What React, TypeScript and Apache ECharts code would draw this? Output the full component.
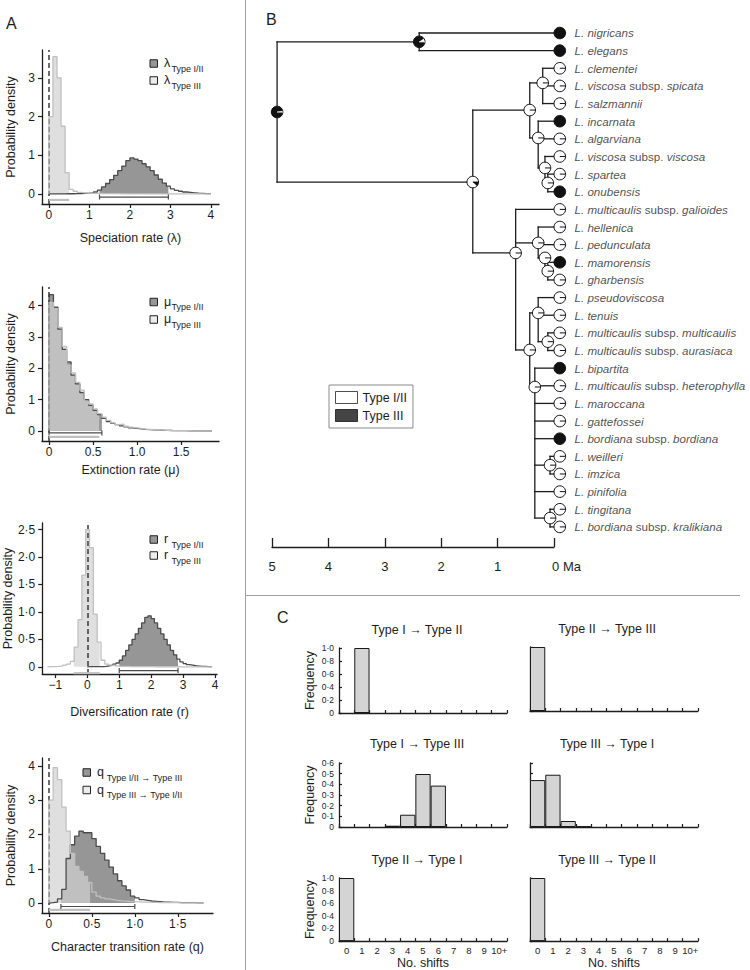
import React, { useEffect, useRef } from "react";
import * as echarts from "echarts";

const FONT = "'Liberation Sans', Arial, Helvetica, sans-serif";
const INK = "#1d1d1d";
const DARK_FILL = "#969696";
const DARK_LINE = "#4b4b4b";
const LIGHT_FILL = "#d2d2d2";
const LIGHT_LINE = "#c0c0c0";
const FRAME = "#a0a0a0";

/* ================= Panel A: posterior densities (histogram bins) ================= */
const lambdaBinStart = 0;
const lambdaBinWidth = 0.1;
const lambdaTypeI_II = [
  0.004, 0.004, 0.004, 0.004, 0.005, 0.005, 0.006, 0.008, 0.012, 0.02,
  0.03, 0.05, 0.1, 0.18, 0.27, 0.37, 0.48, 0.6, 0.72, 0.86,
  0.93, 0.9, 0.86, 0.78, 0.7, 0.6, 0.49, 0.38, 0.28, 0.2,
  0.13, 0.09, 0.07, 0.05, 0.04, 0.03, 0.02, 0.015, 0.01, 0.008,
];
const lambdaTypeIII = [
  2.0, 3.55, 3.0, 1.75, 0.55, 0.12, 0.07, 0.04, 0.03, 0.02,
  0.016, 0.013, 0.011, 0.009, 0.008, 0.007, 0.006, 0.005, 0.005, 0.004,
  0.004, 0.004, 0.003, 0.003, 0.003, 0.003, 0.002, 0.002, 0.002, 0.002,
  0.002, 0.002, 0.002, 0.001, 0.001, 0.001, 0.001, 0.001, 0.001, 0.001,
];
const lambdaHpdTypeI_II = [1.25, 2.95];
const lambdaHpdTypeIII = [0, 0.5];

const muBinStart = 0;
const muBinWidth = 0.05;
const muTypeI_II = [
  4.35, 3.95, 3.25, 2.6, 2.2, 1.78, 1.5, 1.22, 1.0, 0.82,
  0.66, 0.52, 0.4, 0.3, 0.24, 0.2, 0.16, 0.13, 0.1, 0.08,
  0.065, 0.05, 0.04, 0.033, 0.027, 0.022, 0.018, 0.014, 0.012, 0.01,
  0.008, 0.007, 0.006, 0.005, 0.004, 0.003, 0.003,
];
const muTypeIII = [
  4.1, 3.9, 3.3, 2.7, 2.1, 1.85, 1.55, 1.3, 0.95, 0.86,
  0.7, 0.55, 0.44, 0.34, 0.26, 0.2, 0.22, 0.15, 0.12, 0.1,
  0.08, 0.06, 0.05, 0.04, 0.03, 0.025, 0.02, 0.016, 0.013, 0.01,
  0.008, 0.007, 0.006, 0.005, 0.004, 0.003, 0.003,
];
const muHpdTypeI_II = [0, 0.6];
const muHpdTypeIII = [0, 0.57];

const rTypeI_IIBinStart = 0;
const rTypeI_IIBinWidth = 0.1;
const rTypeI_II = [
  0.004, 0.004, 0.005, 0.005, 0.006, 0.01, 0.02, 0.03, 0.05, 0.07,
  0.12, 0.2, 0.3, 0.4, 0.5, 0.6, 0.7, 0.8, 0.9, 0.93,
  0.88, 0.8, 0.7, 0.6, 0.5, 0.4, 0.3, 0.22, 0.14, 0.09,
  0.06, 0.04, 0.03, 0.02, 0.015, 0.01, 0.008, 0.005, 0.003,
];
const rTypeIIIBinStart = -1.25;
const rTypeIIIBinWidth = 0.12;
const rTypeIII = [
  0.004, 0.006, 0.01, 0.015, 0.03, 0.05,
  0.1, 0.36, 0.86, 1.67, 2.5, 2.17, 0.96, 0.45, 0.12,
  0.05, 0.03, 0.02, 0.014, 0.01, 0.008, 0.006, 0.005, 0.004, 0.004,
  0.003, 0.003, 0.003, 0.002, 0.002, 0.002, 0.002, 0.002, 0.002, 0.001,
  0.001, 0.001, 0.001, 0.001, 0.001, 0.001, 0.001, 0.001,
];
const rHpdTypeI_II = [1.0, 2.84];
const rHpdTypeIII = [-0.43, 0.39];

const qBinStart = 0;
const qBinWidth = 0.05;
const qTypeI_IIToIII = [
  0.01, 0.03, 0.12, 0.4, 1.3, 1.7, 1.95, 2.1, 2.05, 2.05,
  1.88, 1.65, 1.45, 1.25, 1.05, 0.85, 0.65, 0.5, 0.38, 0.2,
  0.15, 0.1, 0.08, 0.06, 0.05, 0.04, 0.03, 0.03, 0.02, 0.02,
  0.015, 0.01, 0.01, 0.01, 0.005, 0.005,
];
const qTypeIIIToI_II = [
  3.0, 3.95, 3.6, 2.8, 2.1, 1.45, 1.07, 0.92, 0.78, 0.6,
  0.32, 0.2, 0.15, 0.12, 0.1, 0.08, 0.065, 0.055, 0.045, 0.04,
  0.035, 0.03, 0.025, 0.02, 0.02, 0.015, 0.015, 0.012, 0.01, 0.01,
  0.008, 0.007, 0.006, 0.005, 0.004, 0.003,
];
const qHpdTypeI_IIToIII = [0.14, 1.0];
const qHpdTypeIIIToI_II = [0, 0.48];

const lambdaTicksX = [0, 1, 2, 3, 4];
const lambdaTicksY = [0, 1, 2, 3];
const muTicksX = [0, 0.5, 1, 1.5];
const muTicksY = [0, 1, 2, 3, 4];
const rTicksX = [-1, 0, 1, 2, 3, 4];
const rTicksY = [0, 0.5, 1, 1.5, 2, 2.5];
const qTicksX = [0, 0.5, 1, 1.5];
const qTicksY = [0, 1, 2, 3, 4];

/* ================= Panel B: tree ================= */
const tipNames = [
  "L. nigricans", "L. elegans", "L. clementei", "L. viscosa subsp. spicata", "L. salzmannii",
  "L. incarnata", "L. algarviana", "L. viscosa subsp. viscosa", "L. spartea", "L. onubensis",
  "L. multicaulis subsp. galioides", "L. hellenica", "L. pedunculata", "L. mamorensis", "L. gharbensis",
  "L. pseudoviscosa", "L. tenuis", "L. multicaulis subsp. multicaulis", "L. multicaulis subsp. aurasiaca",
  "L. bipartita", "L. multicaulis subsp. heterophylla", "L. maroccana", "L. gattefossei",
  "L. bordiana subsp. bordiana", "L. weilleri", "L. imzica", "L. pinifolia", "L. tingitana",
  "L. bordiana subsp. kralikiana",
];
// 1 = Type III, 0 = Type I/II
const tipStates = [1, 1, 0, 0, 0, 1, 0, 0, 0, 1, 0, 0, 0, 1, 0, 0, 0, 0, 0, 1, 0, 0, 0, 1, 0, 0, 0, 0, 0];
const nodeIds = ["root", "A", "B", "C", "C1", "C2", "C3", "C4", "D", "D1", "D2", "D3", "E", "E1", "E1b", "E2", "E3", "E4"];
const nodeAgesMa = [4.91, 2.39, 1.44, 0.43, 0.2, 0.28, 0.16, 0.11, 0.68, 0.28, 0.16, 0.11, 0.43, 0.28, 0.11, 0.34, 0.07, 0.07];
const nodeRows = [4.48, 0.5, 8.45, 4.37, 2.83, 5.95, 7.65, 8.5, 12.47, 11.9, 12.75, 13.5, 17.97, 15.87, 17.5, 20.07, 24.5, 27.5];
const nodeProbTypeIII = [0.97, 0.9, 0.12, 0, 0, 0, 0, 0, 0, 0, 0, 0, 0, 0, 0, 0, 0, 0];
const nodeChildren: (number | string)[][] = [
  ["A", "B"], [0, 1], ["C", "D"], ["C1", "C2"], [2, 3, 4], [5, 6, "C3"], [7, "C4"], [8, 9],
  [10, "D1", "E"], [11, 12, "D2"], ["D3"], [13, 14], ["E1", "E2"], [15, 16, "E1b"], [17, 18],
  [19, 20, 21, 22, 23, "E3", 26, "E4"], [24, 25], [27, 28],
];
const ageTicks = [0, 1, 2, 3, 4, 5];

/* ================= Panel C: number of shifts ================= */
const shiftCategories = ["0", "1", "2", "3", "4", "5", "6", "7", "8", "9", "10+"];
const shiftTitles = [
  "Type I \u2192 Type II", "Type II \u2192 Type III",
  "Type I \u2192 Type III", "Type III \u2192 Type I",
  "Type II \u2192 Type I", "Type III \u2192 Type II",
];
const freqI_II = [0, 1.0, 0, 0, 0, 0, 0, 0, 0, 0, 0];
const freqII_III = [1.0, 0, 0, 0, 0, 0, 0, 0, 0, 0, 0];
const freqI_III = [0, 0, 0, 0.012, 0.115, 0.497, 0.388, 0, 0, 0, 0];
const freqIII_I = [0.44, 0.49, 0.056, 0.006, 0, 0, 0, 0, 0, 0, 0];
const freqII_I = [1.0, 0, 0, 0, 0, 0, 0, 0, 0, 0, 0];
const freqIII_II = [1.0, 0, 0, 0, 0, 0, 0, 0, 0, 0, 0];

/* ================= helpers ================= */
function stepOutline(start: number, width: number, h: number[]) {
  const pts: number[][] = [[start, 0]];
  h.forEach((v, i) => pts.push([start + i * width, v]));
  const end = start + h.length * width;
  pts.push([end, h[h.length - 1]]);
  pts.push([end, 0]);
  return pts;
}
function stepFill(start: number, width: number, h: number[], hpd: number[]) {
  const lo = hpd[0], hi = hpd[1];
  const pts: number[][] = [];
  let lastB = lo, lastV = 0;
  h.forEach((v, i) => {
    const a = Math.max(start + i * width, lo);
    const b = Math.min(start + (i + 1) * width, hi);
    if (b > a + 1e-9) { pts.push([a, v]); lastB = b; lastV = v; }
  });
  pts.push([lastB, lastV]);
  return pts;
}
const dotFmt = (v: number) => (v === 0 ? "0" : v.toFixed(1).replace(".", "\u00b7"));
const plainFmt = (v: number) => (v === 0 ? "0" : v.toFixed(1));
const intFmt = (v: number) => (v < 0 ? "\u2212" + Math.abs(v) : String(v));

const panelA = [
  {
    grid: { left: 42, top: 50, width: 177, height: 154 },
    x: { min: -0.17, max: 4.2, ticks: lambdaTicksX, fmt: intFmt, name: "Speciation rate (\u03bb)", gap: 27 },
    y: { min: -0.26, max: 3.72, ticks: lambdaTicksY, fmt: intFmt },
    dark: { start: lambdaBinStart, width: lambdaBinWidth, h: lambdaTypeI_II, hpd: lambdaHpdTypeI_II },
    light: { start: lambdaBinStart, width: lambdaBinWidth, h: lambdaTypeIII, hpd: lambdaHpdTypeIII },
    hpdY: [-0.08, -0.155],
    legend: { x: 150, y: [63.5, 80.5], g: "\u03bb", subs: ["Type I/II", "Type III"] },
  },
  {
    grid: { left: 42, top: 287, width: 177, height: 154 },
    x: { min: -0.08, max: 1.93, ticks: muTicksX, fmt: plainFmt, name: "Extinction rate (\u03bc)", gap: 22 },
    y: { min: -0.32, max: 4.59, ticks: muTicksY, fmt: intFmt },
    dark: { start: muBinStart, width: muBinWidth, h: muTypeI_II, hpd: muHpdTypeI_II },
    light: { start: muBinStart, width: muBinWidth, h: muTypeIII, hpd: muHpdTypeIII },
    hpdY: [-0.064, -0.19],
    legend: { x: 150, y: [302, 319.5], g: "\u03bc", subs: ["Type I/II", "Type III"] },
  },
  {
    grid: { left: 42, top: 523, width: 175, height: 151 },
    x: { min: -1.41, max: 4.06, ticks: rTicksX, fmt: intFmt, name: "Diversification rate (r)", gap: 31 },
    y: { min: -0.13, max: 2.62, ticks: rTicksY, fmt: dotFmt },
    dark: { start: rTypeI_IIBinStart, width: rTypeI_IIBinWidth, h: rTypeI_II, hpd: rHpdTypeI_II },
    light: { start: rTypeIIIBinStart, width: rTypeIIIBinWidth, h: rTypeIII, hpd: rHpdTypeIII },
    hpdY: [-0.067, -0.115],
    legend: { x: 150, y: [539.5, 555.5], g: "r", subs: ["Type I/II", "Type III"] },
  },
  {
    grid: { left: 42, top: 758, width: 171, height: 155 },
    x: { min: -0.08, max: 1.91, ticks: qTicksX, fmt: dotFmt, name: "Character transition rate (q)", gap: 27 },
    y: { min: -0.29, max: 4.23, ticks: qTicksY, fmt: intFmt },
    dark: { start: qBinStart, width: qBinWidth, h: qTypeI_IIToIII, hpd: qHpdTypeI_IIToIII },
    light: { start: qBinStart, width: qBinWidth, h: qTypeIIIToI_II, hpd: qHpdTypeIIIToI_II },
    hpdY: [-0.1, -0.2],
    legend: { x: 83, y: [772.5, 790], g: "q", subs: [" Type I/II \u2192 Type III", " Type III \u2192 Type I/II"] },
  },
];

const panelC = [
  { grid: { left: 339, top: 648, width: 168, height: 65 }, max: 1, step: 0.2, data: freqI_II, left: true, bottom: false },
  { grid: { left: 530, top: 647, width: 168, height: 64 }, max: 1, step: 0.2, data: freqII_III, left: false, bottom: false },
  { grid: { left: 339, top: 763, width: 168, height: 64 }, max: 0.6, step: 0.1, data: freqI_III, left: true, bottom: false },
  { grid: { left: 530, top: 763, width: 168, height: 64 }, max: 0.6, step: 0.1, data: freqIII_I, left: false, bottom: false },
  { grid: { left: 339, top: 878, width: 168, height: 65 }, max: 1, step: 0.2, data: freqII_I, left: true, bottom: true },
  { grid: { left: 530, top: 878, width: 168, height: 65 }, max: 1, step: 0.2, data: freqIII_II, left: false, bottom: true },
];
const shiftTitlePos = [[417, 630], [607, 629], [417, 744], [607, 744], [417, 860], [607, 860]];

function txt(x: number, y: number, text: string, size: number, align = "left", extra: any = {}) {
  return {
    type: "text", x, y, silent: true,
    style: {
      text, fill: INK, fontSize: size, fontFamily: FONT,
      align, verticalAlign: "middle", textAlign: align, textVerticalAlign: "middle", ...extra,
    },
  };
}

function buildOption() {
  const grid: any[] = [];
  const xAxis: any[] = [];
  const yAxis: any[] = [];
  const series: any[] = [];
  const elements: any[] = [];
  const axisText = { color: INK, fontFamily: FONT };

  /* ---- Panel A ---- */
  panelA.forEach((p, k) => {
    grid.push({ ...p.grid });
    xAxis.push({
      gridIndex: k, type: "value", min: p.x.min, max: p.x.max,
      axisLine: { show: true, onZero: false, lineStyle: { color: INK, width: 1.3 } },
      axisTick: { show: true, inside: false, length: 4, customValues: p.x.ticks, lineStyle: { color: INK, width: 1.2 } },
      axisLabel: { show: true, customValues: p.x.ticks, formatter: p.x.fmt, fontSize: 12, margin: 5, ...axisText },
      splitLine: { show: false },
      name: p.x.name, nameLocation: "middle", nameGap: p.x.gap,
      nameTextStyle: { fontSize: 12.5, ...axisText },
    });
    yAxis.push({
      gridIndex: k, type: "value", min: p.y.min, max: p.y.max,
      axisLine: { show: true, onZero: false, lineStyle: { color: INK, width: 1.3 } },
      axisTick: { show: true, inside: false, length: 4, customValues: p.y.ticks, lineStyle: { color: INK, width: 1.2 } },
      axisLabel: { show: true, customValues: p.y.ticks, formatter: p.y.fmt, fontSize: 12, margin: 7, ...axisText },
      splitLine: { show: false },
      name: "Probability density", nameLocation: "middle", nameGap: 25,
      nameTextStyle: { fontSize: 12.5, ...axisText },
    });
    const base = { type: "line", xAxisIndex: k, yAxisIndex: k, step: "end", showSymbol: false, symbol: "none", silent: true };
    series.push({
      ...base, name: "fillDark" + k, z: 2,
      data: stepFill(p.dark.start, p.dark.width, p.dark.h, p.dark.hpd),
      lineStyle: { width: 0, opacity: 0 }, areaStyle: { color: DARK_FILL, opacity: 1 },
    });
    series.push({
      ...base, name: "fillLight" + k, z: 3,
      data: stepFill(p.light.start, p.light.width, p.light.h, p.light.hpd),
      lineStyle: { width: 0, opacity: 0 }, areaStyle: { color: LIGHT_FILL, opacity: 0.7 },
    });
    series.push({
      ...base, name: "outlineDark" + k, z: 4,
      data: stepOutline(p.dark.start, p.dark.width, p.dark.h),
      lineStyle: { color: DARK_LINE, width: 1.3 },
      markLine: {
        silent: true, symbol: ["none", "none"], label: { show: false },
        lineStyle: { type: [5, 3], color: "#3a3a3a", width: 1.5 },
        data: [{ xAxis: 0 }],
      },
    });
    series.push({
      ...base, name: "outlineLight" + k, z: 5,
      data: stepOutline(p.light.start, p.light.width, p.light.h),
      lineStyle: { color: LIGHT_LINE, width: 1.3 },
    });
    series.push({
      type: "custom", xAxisIndex: k, yAxisIndex: k, z: 6, silent: true,
      data: [
        [p.dark.hpd[0], p.dark.hpd[1], p.hpdY[0], 1],
        [p.light.hpd[0], p.light.hpd[1], p.hpdY[1], 0],
      ],
      renderItem: (_params: any, api: any) => {
        const a = api.coord([api.value(0), api.value(2)]);
        const b = api.coord([api.value(1), api.value(2)]);
        const dark = api.value(3) === 1;
        const color = dark ? DARK_LINE : LIGHT_LINE;
        const kids: any[] = [
          { type: "line", shape: { x1: a[0], y1: a[1], x2: b[0], y2: b[1] }, style: { stroke: color, lineWidth: dark ? 1.2 : 2.2 } },
        ];
        if (dark) {
          kids.push({ type: "line", shape: { x1: a[0], y1: a[1] - 2.5, x2: a[0], y2: a[1] + 2.5 }, style: { stroke: color, lineWidth: 1.2 } });
          kids.push({ type: "line", shape: { x1: b[0], y1: b[1] - 2.5, x2: b[0], y2: b[1] + 2.5 }, style: { stroke: color, lineWidth: 1.2 } });
        }
        return { type: "group", children: kids };
      },
    });
    // legend (graphic)
    const L = p.legend;
    [0, 1].forEach((j) => {
      const cy = L.y[j];
      elements.push({
        type: "rect", silent: true,
        shape: { x: L.x, y: cy - 3.75, width: 7.5, height: 7.5 },
        style: { fill: j === 0 ? DARK_FILL : "#ececec", stroke: "#222", lineWidth: 1 },
      });
      elements.push(txt(L.x + 14, cy - 0.5, L.g, 12.5));
      elements.push(txt(L.x + 21.5, cy + 5, L.subs[j], 9));
    });
  });

  /* ---- Panel B: tree (grid 4) ---- */
  const T = 4;
  grid.push({ left: 272, top: 15.36, width: 282, height: 531.64 });
  xAxis.push({
    gridIndex: T, type: "value", min: 0, max: 5, inverse: true,
    axisLine: { show: true, onZero: false, lineStyle: { color: INK, width: 1.3 } },
    axisTick: { show: true, inside: true, length: 9, customValues: ageTicks, lineStyle: { color: INK, width: 1.3 } },
    axisLabel: {
      show: true, customValues: ageTicks, fontSize: 13, margin: 13, ...axisText,
      formatter: (v: number) => (v === 0 ? "{z|0 Ma}" : String(v)),
      rich: { z: { fontSize: 13, fontFamily: FONT, color: INK, padding: [0, 0, 0, 25] } },
    },
    splitLine: { show: false },
  });
  yAxis.push({ gridIndex: T, type: "value", min: -1, max: 29.14, inverse: true, show: false });

  const rowOf = (c: number | string) => (typeof c === "number" ? c : nodeRows[nodeIds.indexOf(c)]);
  const ageOf = (c: number | string) => (typeof c === "number" ? 0 : nodeAgesMa[nodeIds.indexOf(c)]);
  const segments: number[][] = [];
  nodeIds.forEach((_id, n) => {
    const kids = nodeChildren[n];
    const ys = kids.map(rowOf).concat([nodeRows[n]]);
    segments.push([nodeAgesMa[n], Math.min(...ys), nodeAgesMa[n], Math.max(...ys)]);
    kids.forEach((c) => segments.push([nodeAgesMa[n], rowOf(c), ageOf(c), rowOf(c)]));
  });
  series.push({
    type: "custom", xAxisIndex: T, yAxisIndex: T, z: 2, silent: true, data: segments,
    renderItem: (_p: any, api: any) => {
      const a = api.coord([api.value(0), api.value(1)]);
      const b = api.coord([api.value(2), api.value(3)]);
      return { type: "line", shape: { x1: a[0], y1: a[1], x2: b[0], y2: b[1] }, style: { stroke: INK, lineWidth: 1.3, lineCap: "square" } };
    },
  });
  const circles: number[][] = nodeIds.map((_id, n) => [nodeAgesMa[n], nodeRows[n], nodeProbTypeIII[n], 0]);
  tipStates.forEach((s, i) => circles.push([0, i, s, 1]));
  series.push({
    type: "custom", xAxisIndex: T, yAxisIndex: T, z: 3, silent: true, data: circles,
    renderItem: (_p: any, api: any) => {
      const pt = api.coord([api.value(0), api.value(1)]);
      const f = api.value(2);
      const r = 5.8;
      const cx = pt[0] + (api.value(3) === 1 ? r : 0);
      const cy = pt[1];
      const kids: any[] = [
        { type: "circle", shape: { cx, cy, r }, style: { fill: f >= 1 ? "#111" : "#fff", stroke: "#111", lineWidth: 1 } },
      ];
      if (f > 0 && f < 1) {
        kids.push({ type: "sector", shape: { cx, cy, r0: 0, r: r, startAngle: 0, endAngle: Math.PI * 2 * f, clockwise: true }, style: { fill: "#111" } });
      }
      if (f < 1) {
        kids.push({ type: "line", shape: { x1: cx, y1: cy, x2: cx + r, y2: cy }, style: { stroke: f > 0.5 ? "#fff" : "#111", lineWidth: 1 } });
      }
      return { type: "group", children: kids };
    },
  });
  const tipRich = (name: string) => {
    const parts = name.split(" subsp. ");
    return parts.length === 2 ? `{i|${parts[0]}} {n|subsp.} {i|${parts[1]}}` : `{i|${name}}`;
  };
  series.push({
    type: "scatter", xAxisIndex: T, yAxisIndex: T, z: 4, silent: true,
    symbol: "circle", symbolSize: 1, itemStyle: { color: "rgba(0,0,0,0)" },
    data: tipNames.map((n, i) => ({ name: n, value: [0, i] })),
    label: {
      show: true, position: "right", distance: 20, fontSize: 11.6, color: INK, fontFamily: FONT,
      formatter: (p: any) => tipRich(p.name),
      rich: {
        i: { fontStyle: "italic", fontSize: 11.6, fontFamily: FONT, color: INK },
        n: { fontSize: 11.6, fontFamily: FONT, color: INK },
      },
    },
  });
  series.push({ type: "scatter", name: "Type I/II", xAxisIndex: T, yAxisIndex: T, data: [], itemStyle: { color: "#fff", borderColor: "#222", borderWidth: 1 } });
  series.push({ type: "scatter", name: "Type III", xAxisIndex: T, yAxisIndex: T, data: [], itemStyle: { color: "#151515" } });

  /* ---- Panel C ---- */
  panelC.forEach((c, j) => {
    const gi = 5 + j;
    grid.push({ ...c.grid });
    xAxis.push({
      gridIndex: gi, type: "category", data: shiftCategories, boundaryGap: true,
      axisLine: { show: true, onZero: false, lineStyle: { color: INK, width: 1.3 } },
      axisTick: { show: true, inside: true, length: 3, alignWithLabel: false, interval: 0, lineStyle: { color: INK, width: 1.2 } },
      axisLabel: { show: c.bottom, interval: 0, fontSize: 9.5, margin: 4, ...axisText },
      splitLine: { show: false },
      name: c.bottom ? "No. shifts" : "", nameLocation: "middle", nameGap: 14,
      nameTextStyle: { fontSize: 12.5, ...axisText },
    });
    yAxis.push({
      gridIndex: gi, type: "value", min: 0, max: c.max, interval: c.step,
      axisLine: { show: true, onZero: false, lineStyle: { color: INK, width: 1.3 } },
      axisTick: { show: true, inside: true, length: 3, lineStyle: { color: INK, width: 1.2 } },
      axisLabel: { show: c.left, fontSize: 8.5, margin: 5, formatter: dotFmt, ...axisText },
      splitLine: { show: false },
      name: c.left ? "Frequency" : "", nameLocation: "middle", nameGap: 23,
      nameTextStyle: { fontSize: 12.5, ...axisText },
    });
    series.push({
      type: "bar", xAxisIndex: gi, yAxisIndex: gi, silent: true, barCategoryGap: "0%",
      data: c.data.map((v) => (v === 0 ? "-" : v)),
      itemStyle: { color: "#d4d4d4", borderColor: "#1a1a1a", borderWidth: 1 },
    });
    const tp = shiftTitlePos[j];
    elements.push(txt(tp[0], tp[1], shiftTitles[j], 12.5, "center"));
  });

  /* ---- frame, panel letters ---- */
  elements.push({ type: "line", silent: true, shape: { x1: 245.5, y1: 0, x2: 245.5, y2: 970 }, style: { stroke: FRAME, lineWidth: 1 } });
  elements.push({ type: "line", silent: true, shape: { x1: 245, y1: 595.5, x2: 740, y2: 595.5 }, style: { stroke: FRAME, lineWidth: 1 } });
  elements.push(txt(6, 23, "A", 16));
  elements.push(txt(266, 19, "B", 16));
  elements.push(txt(277, 617, "C", 16));

  return {
    animation: false,
    textStyle: { fontFamily: FONT },
    grid, xAxis, yAxis, series,
    legend: [{
      data: [
        { name: "Type I/II", icon: "rect", itemStyle: { color: "#fff", borderColor: "#222", borderWidth: 1 } },
        { name: "Type III", icon: "rect", itemStyle: { color: "#151515", borderColor: "#151515", borderWidth: 1 } },
      ],
      orient: "vertical", left: 329, top: 385, itemWidth: 22, itemHeight: 12, itemGap: 5,
      padding: [6, 6, 6, 6], borderColor: "#8a8a8a", borderWidth: 1, selectedMode: false,
      textStyle: { fontSize: 12.5, color: INK, fontFamily: FONT },
    }],
    graphic: { elements },
  };
}

export default function App() {
  const ref = useRef<HTMLDivElement>(null);
  useEffect(() => {
    if (!ref.current) return;
    const chart = echarts.init(ref.current, null, { renderer: "svg" });
    chart.setOption(buildOption() as any);
    return () => chart.dispose();
  }, []);
  return <div ref={ref} style={{ position: "absolute", left: 0, top: 0, width: 750, height: 970, background: "#fff" }} />;
}
